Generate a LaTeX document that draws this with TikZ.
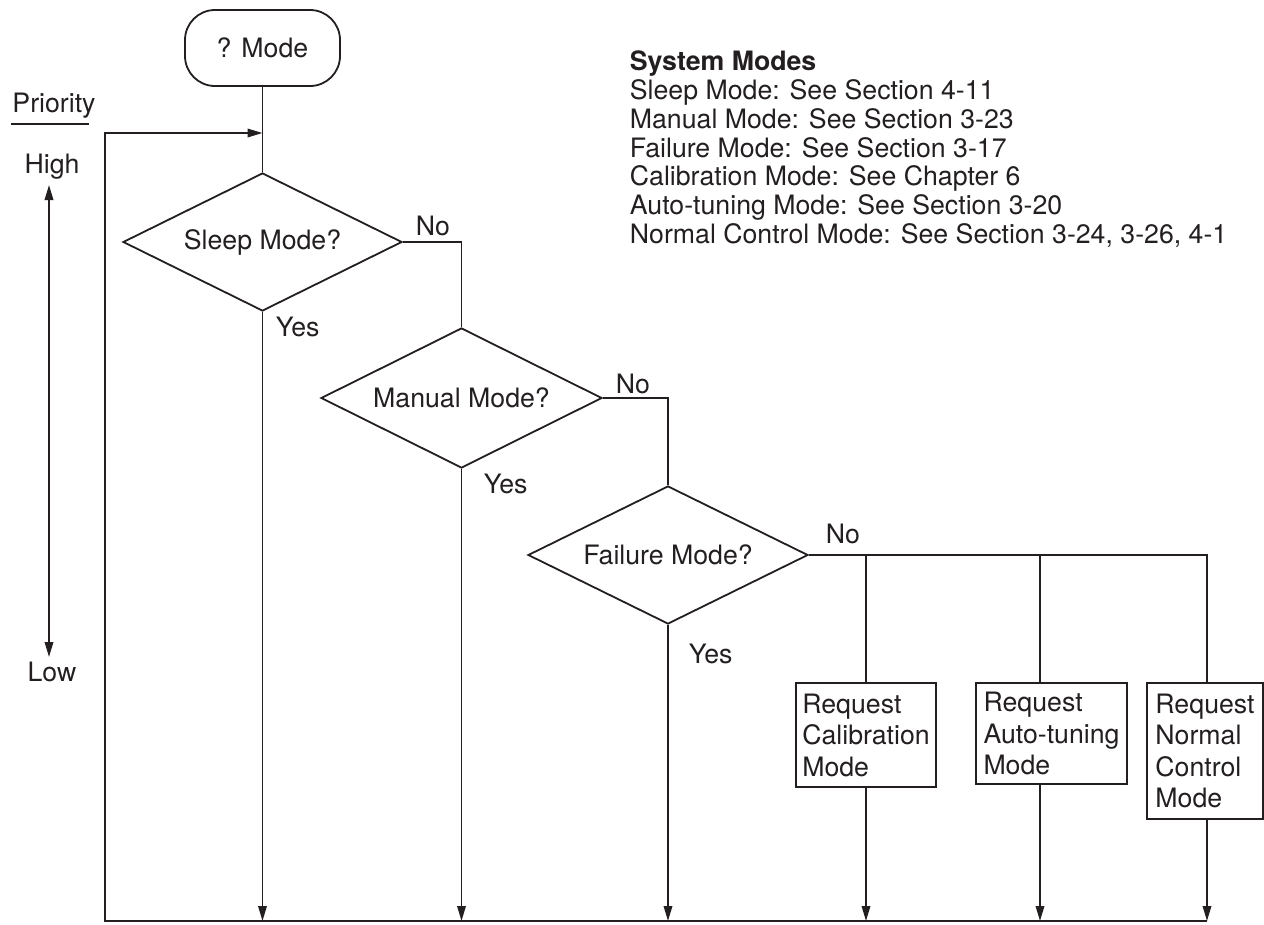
\documentclass[tikz,border=0pt]{standalone}
\usepackage{fontspec}
\setmainfont{TeX Gyre Heros}
\usetikzlibrary{shapes.geometric,arrows.meta}
\definecolor{ink}{RGB}{35,31,32}
\begin{document}
\begin{tikzpicture}[x=1pt,y=-1pt,
  line width=1.8pt, draw=ink, color=ink,
  every node/.style={font=\fontsize{26.7}{31.5}\selectfont, inner sep=0pt, text=ink},
  dec/.style={diamond, draw, aspect=2, minimum width=279pt, minimum height=138pt},
  term/.style={draw, rounded corners=30pt, minimum width=155pt, minimum height=76pt},
  proc/.style={draw, align=left},
  flow/.style={-{Triangle[length=15pt,width=8.5pt]}},
  both/.style={{Triangle[length=15pt,width=8.5pt]}-{Triangle[length=15pt,width=8.5pt]}}
]
\useasboundingbox (0,0) rectangle (1264,924);

% nodes
\node[term] (start) at (262.5,48) {? Mode};
\node[dec] (sleep) at (262.5,242) {Sleep Mode?};
\node[dec, minimum width=281pt, minimum height=140pt] (manual) at (461.5,398) {Manual Mode?};
\node[dec, minimum width=280pt] (fail) at (668,555) {Failure Mode?};

\node[proc, minimum width=140pt, minimum height=104pt] (cal) at (866,735) {Request\\Calibration\\Mode};
\node[proc, minimum width=151pt, minimum height=101pt] (auto) at (1051.5,733.5) {Request\\Auto-tuning\\Mode};
\node[proc, minimum width=116pt, minimum height=136pt] (norm) at (1205,751) {Request\\Normal\\Control\\Mode};

% labels
\node (noA) at (433,226) {No};
\node[anchor=west] (yesA) at (275,327) {Yes};
\node (noB) at (633,384) {No};
\node[anchor=west] (yesB) at (483,484) {Yes};
\node (noC) at (843,534) {No};
\node[anchor=west] (yesC) at (688,654) {Yes};

\node (prio) at (54,106) {Priority};
\node (high) at (52,167) {High};
\node (low) at (52,672) {Low};

\node[anchor=north west, align=left, font=\fontsize{26.7}{28.8}\selectfont] (list) at (629,50)
  {\textbf{System Modes}\\
   Sleep Mode: See Section 4-11\\
   Manual Mode: See Section 3-23\\
   Failure Mode: See Section 3-17\\
   Calibration Mode: See Chapter 6\\
   Auto-tuning Mode: See Section 3-20\\
   Normal Control Mode: See Section 3-24, 3-26, 4-1};

% coordinates
\coordinate (bot) at (0,921);
\coordinate (fbB) at (105,921);
\coordinate (fbT) at (105,133);
\coordinate (join) at (262.5,133);
\coordinate (brA) at (866,555);
\coordinate (brB) at (1040,555);
\coordinate (brC) at (1207,555);
\coordinate (ulL) at (11,124);
\coordinate (ulR) at (89,124);
\coordinate (prTop) at (49,185);
\coordinate (prBot) at (49,657);

% connectors
\draw (start) -- (sleep);
\draw (sleep.east) -| (manual.north);
\draw (manual.east) -| (fail.north);
\draw (fail.east) -- (brC) -- (brC |- norm.north);
\draw (brA) -- (brA |- cal.north);
\draw (brB) -- (brB |- auto.north);

\draw[flow] (sleep.south) -- (sleep.south |- bot);
\draw[flow] (manual.south) -- (manual.south |- bot);
\draw[flow] (fail.south) -- (fail.south |- bot);
\draw[flow] (brA |- cal.south) -- (brA |- bot);
\draw[flow] (brB |- auto.south) -- (brB |- bot);
\draw[flow] (brC |- norm.south) -- (brC |- bot);

\draw[flow] (brC |- bot) -- (fbB) -- (fbT) -- (join);

\draw (ulL) -- (ulR);
\draw[both] (prTop) -- (prBot);
\end{tikzpicture}
\end{document}
